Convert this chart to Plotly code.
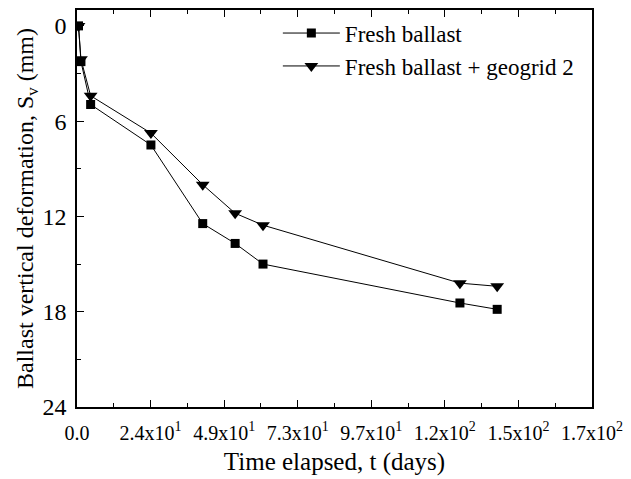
import plotly.graph_objects as go

# Settlement measurements (time in days, vertical deformation in mm)
time_days = [0.5, 1.3, 4.5, 24.4, 41.5, 52.2, 61.4, 126.4, 138.7]
fresh_ballast = [0.0, 2.25, 4.95, 7.5, 12.45, 13.7, 15.0, 17.45, 17.85]
fresh_geogrid = [0.0, 2.1, 4.4, 6.75, 10.0, 11.8, 12.55, 16.2, 16.4]

series_names = ["Fresh ballast", "Fresh ballast + geogrid 2"]

# Axis ticks
x_max = 170.0
x_tick_vals = [x_max * k / 7 for k in range(8)]
x_tick_text = ["0.0", "2.4x10<sup>1</sup>", "4.9x10<sup>1</sup>", "7.3x10<sup>1</sup>",
               "9.7x10<sup>1</sup>", "1.2x10<sup>2</sup>", "1.5x10<sup>2</sup>", "1.7x10<sup>2</sup>"]
y_tick_vals = [0, 6, 12, 18, 24]

FONT = "Liberation Serif"

fig = go.Figure()
fig.add_trace(go.Scatter(
    x=time_days, y=fresh_ballast, name=series_names[0],
    mode="lines+markers",
    line=dict(color="black", width=1),
    marker=dict(symbol="square", size=9, color="black"),
))
fig.add_trace(go.Scatter(
    x=time_days, y=fresh_geogrid, name=series_names[1],
    mode="lines+markers",
    line=dict(color="black", width=1),
    marker=dict(symbol="triangle-down", size=12, color="black"),
))

fig.update_layout(
    width=631, height=479,
    margin=dict(l=77, r=36, t=8, b=72),
    paper_bgcolor="white", plot_bgcolor="white",
    font=dict(family=FONT, color="black", size=19),
    showlegend=True,
    legend=dict(
        x=0.39, y=0.996, xanchor="left", yanchor="top",
        bgcolor="rgba(0,0,0,0)", borderwidth=0,
        font=dict(family=FONT, size=23, color="black"),
        itemwidth=57, tracegroupgap=0,
    ),
    xaxis=dict(
        range=[0, x_max],
        tickmode="array", tickvals=x_tick_vals, ticktext=x_tick_text,
        ticks="inside", ticklen=7, tickwidth=1, tickcolor="black",
        minor=dict(ticks="inside", ticklen=4, tickwidth=1, tickcolor="black",
                   dtick=x_max / 14, tick0=0),
        showline=True, linecolor="black", linewidth=1.5, mirror="ticks",
        showgrid=False, zeroline=False,
        tickfont=dict(family=FONT, size=20),
        ticklabelstandoff=7,
        title=dict(text="Time elapsed, t (days)", font=dict(family=FONT, size=25), standoff=10),
    ),
    yaxis=dict(
        range=[24, -1],
        tickmode="array", tickvals=y_tick_vals,
        ticks="inside", ticklen=7, tickwidth=1, tickcolor="black",
        minor=dict(ticks="inside", ticklen=4, tickwidth=1, tickcolor="black",
                   tickvals=[3, 9, 15, 21]),
        showline=True, linecolor="black", linewidth=1.5, mirror=True,
        showgrid=False, zeroline=False,
        tickfont=dict(family=FONT, size=24),
        ticklabelstandoff=4,
        title=dict(text="Ballast vertical deformation, S<sub>v</sub> (mm)",
                   font=dict(family=FONT, size=24), standoff=1),
    ),
)

fig.write_html("out.html")
